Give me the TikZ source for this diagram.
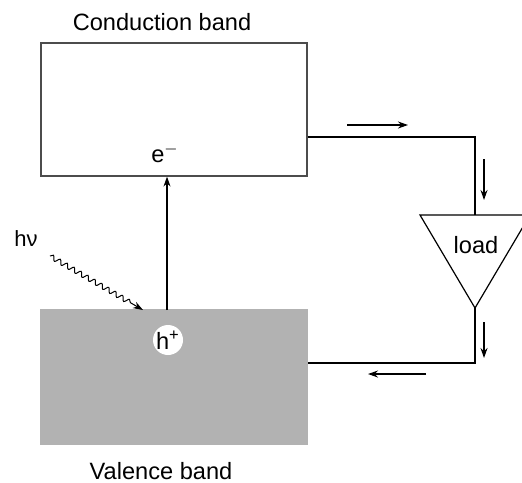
\documentclass[tikz,border=0pt]{standalone}
\usepackage{fontspec}
\setmainfont{Liberation Sans}
\usetikzlibrary{arrows.meta,decorations.pathmorphing}
\tikzset{
  band/.style = {draw=black!70, line width=0.6pt, minimum width=133pt, minimum height=66.5pt, inner sep=0pt},
  wire/.style = {line width=0.6pt},
  flow/.style = {line width=0.6pt, -{Stealth[length=5pt,width=3.5pt]}},
  label/.style = {font=\fontsize{11.8}{14}\selectfont},
}
\begin{document}
\begin{tikzpicture}[x=0.5pt, y=-0.5pt]
	\useasboundingbox (0,0) rectangle (522,482);
	% bands
	\node[band] (cb) at (174,109.5) {};
	\node[band, fill=black!30, draw=black!30, minimum height=67pt] (vb) at (174,377) {};
	\node[label] (cblabel) at (162,22) {Conduction band};
	\node[label] (vblabel) at (161,471) {Valence band};
	\node[label] (el) at (165,153) {e\textsuperscript{$-$}};
	\node[label, circle, fill=white, inner sep=0pt, minimum size=15pt] (hole) at (168,340) {h\textsuperscript{+}};
	% excitation
	\coordinate (hit) at (167,310);
	\draw[flow] (hit) -- (cb.south -| hit);
	\node[label, font=\fontsize{11}{13}\selectfont] (hv) at (26,239) {hν};
	\coordinate (ph0) at (50,256);
	\coordinate (ph1) at (143,310);
	\draw[line width=0.5pt, -{Stealth[length=5pt,width=3.5pt]},
		decorate, decoration={snake, amplitude=1.2pt, segment length=4pt, post length=6pt}] (ph0) -- (ph1);
	% load
	\coordinate (tl) at (420,215);
	\coordinate (tr) at (530,215);
	\coordinate (tb) at (475,308);
	\draw[wire, line join=miter] (tl) -- (tr) -- (tb) -- cycle;
	\node[label] (load) at (476,245) {load};
	% circuit
	\draw[wire] (cb.east |- 0,137) -- (475,137) -- (475,215);
	\draw[wire] (tb) -- (475,363) -- (vb.east |- 0,363);
	\draw[flow] (347,125) -- (408,125);
	\draw[flow] (484,159) -- (484,200);
	\draw[flow] (484,322) -- (484,358);
	\draw[flow] (426,374) -- (368,374);
\end{tikzpicture}
\end{document}
